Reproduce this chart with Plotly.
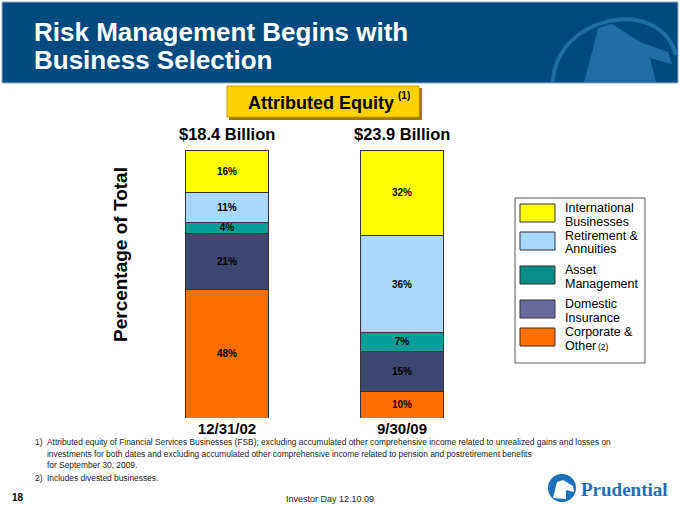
import plotly.graph_objects as go

W, H = 680, 507

dates = ["12/31/02", "9/30/09"]
totals = ["$18.4 Billion", "$23.9 Billion"]
# bottom -> top of each stack
segments = ["Corporate & Other", "Domestic Insurance", "Asset Management",
            "Retirement & Annuities", "International Businesses"]
corporate = [48, 10]
domestic = [21, 15]
asset_mgmt = [4, 7]
retirement = [11, 36]
international = [16, 32]
bar_colors = ["#FF6E00", "#3C4870", "#079E99", "#A8D8FF", "#FFFF00"]

# legend (top -> bottom as drawn on slide)
legend_lines = [["International", "Businesses"],
                ["Retirement &", "Annuities"],
                ["Asset", "Management"],
                ["Domestic", "Insurance"],
                ["Corporate &", "Other"]]
legend_colors = ["#FFFF00", "#A8D8FF", "#0A8C88", "#6A6A9C", "#FF6E00"]

title_lines = ["Risk Management Begins with", "Business Selection"]
footnotes = [
    ("1)", "Attributed equity of Financial Services Businesses (FSB); excluding accumulated other comprehensive income related to unrealized gains and losses on"),
    ("", "investments for both dates and excluding accumulated other comprehensive income related to pension and postretirement benefits"),
    ("", "for September 30, 2009."),
    ("2)", "Includes divested businesses."),
]

SANS = "Liberation Sans, Arial"


def px(x):
    return x / W


def py(y):
    return 1 - y / H


def label(x, y, text, size, color="black", bold=False, anchor="left", family=SANS, **kw):
    d = dict(x=px(x), y=py(y), xref="paper", yref="paper", xanchor=anchor, yanchor="middle",
             showarrow=False, text=text,
             font=dict(family=family, size=size, color=color, weight="bold" if bold else "normal"))
    d.update(kw)
    return d


fig = go.Figure()
values = [corporate, domestic, asset_mgmt, retirement, international]
for name, vals, col in zip(segments, values, bar_colors):
    fig.add_trace(go.Bar(
        x=dates, y=vals, name=name, width=0.47,
        marker=dict(color=col, line=dict(color="#333333", width=1)),
        text=[f"{v}%" for v in vals], textposition="inside",
        insidetextanchor="middle", constraintext="none", textangle=0,
        textfont=dict(family=SANS, size=10, color="black", weight="bold"),
        showlegend=False, hoverinfo="skip"))

shapes = []
annotations = []

# header band
shapes.append(dict(type="rect", xref="paper", yref="paper", x0=px(2), x1=px(678), y0=py(83), y1=py(2),
                   fillcolor="#004A80", line=dict(color="#9AAFC4", width=1), layer="below"))
# faint watermark in header
shapes.append(dict(type="path", xref="paper", yref="paper",
                   path=f"M {px(553)} {py(82)} C {px(556)} {py(15)}, {px(660)} {py(-5)}, {px(676)} {py(55)}",
                   line=dict(color="#1F6EA6", width=4)))
shapes.append(dict(type="path", xref="paper", yref="paper",
                   path=(f"M {px(584)} {py(82)} L {px(594)} {py(45)} L {px(598)} {py(28)} L {px(612)} {py(24)} "
                         f"L {px(640)} {py(42)} L {px(668)} {py(52)} L {px(672)} {py(64)} L {px(650)} {py(58)} "
                         f"L {px(656)} {py(82)} Z"),
                   fillcolor="#1F6EA6", line=dict(width=0)))
for ln, yy in zip(title_lines, [32, 60]):
    annotations.append(label(32, yy, ln, 26, color="white", bold=True))

# yellow box
shapes.append(dict(type="rect", xref="paper", yref="paper", x0=px(229), x1=px(422), y0=py(120), y1=py(88),
                   fillcolor="#A07800", line=dict(width=0)))
shapes.append(dict(type="rect", xref="paper", yref="paper", x0=px(227), x1=px(419), y0=py(117), y1=py(86),
                   fillcolor="#FFD200", line=dict(color="#D0A000", width=1)))
annotations.append(label(396, 103, "Attributed Equity", 18, bold=True, anchor="right"))
annotations.append(label(396, 96, "(1)", 10, bold=True))

# totals above bars
for d, t in zip(dates, totals):
    annotations.append(dict(x=d, y=100, xref="x", yref="y", yanchor="bottom", yshift=5, showarrow=False,
                            text=t, font=dict(family=SANS, size=16.5, color="black", weight="bold")))

# y title
annotations.append(label(120, 255, "Percentage of Total", 19, bold=True, anchor="center", textangle=-90))

# legend
shapes.append(dict(type="rect", xref="paper", yref="paper", x0=px(515), x1=px(645), y0=py(363), y1=py(198),
                   line=dict(color="#555555", width=1), fillcolor="white"))
sw_tops = [204, 232, 266, 300, 328]
for top, lines, col in zip(sw_tops, legend_lines, legend_colors):
    shapes.append(dict(type="rect", xref="paper", yref="paper", x0=px(520), x1=px(555), y0=py(top + 18), y1=py(top),
                       fillcolor=col, line=dict(color="#333333", width=1)))
    for i, ln in enumerate(lines):
        annotations.append(label(563, top + 4 + 13.5 * i, ln, 12.5))
annotations.append(label(596, 347, "(2)", 8.5))

# footnotes
fn_y = [442, 454, 465, 478]
for (num, txt), yy in zip(footnotes, fn_y):
    if num:
        annotations.append(label(33, yy, num, 8.4, color="#222222"))
    annotations.append(label(45, yy, txt, 8.4, color="#222222"))

annotations.append(label(10, 497, "18", 10, bold=True))
annotations.append(label(330, 499, "Investor Day 12.10.09", 9, color="#222222", anchor="center"))

# Prudential logo
shapes.append(dict(type="circle", xref="paper", yref="paper", x0=px(548), x1=px(576), y0=py(502), y1=py(474),
                   fillcolor="#1D6FB8", line=dict(width=0)))
shapes.append(dict(type="path", xref="paper", yref="paper",
                   path=(f"M {px(553)} {py(498)} L {px(557)} {py(482)} L {px(563)} {py(480)} L {px(573)} {py(486)} "
                         f"L {px(574)} {py(492)} L {px(566)} {py(490)} L {px(566)} {py(499)} Z"),
                   fillcolor="white", line=dict(width=0)))
annotations.append(label(579, 489, "Prudential", 19, color="#1D6FB8", bold=True,
                         family="Liberation Serif, DejaVu Serif"))

fig.update_layout(
    width=W, height=H, barmode="stack",
    margin=dict(l=0, r=0, t=0, b=0),
    paper_bgcolor="white", plot_bgcolor="white",
    xaxis=dict(domain=[139.5 / W, 489.5 / W], range=[-0.5, 1.5], showgrid=False, zeroline=False,
               showline=False, ticks="",
               tickfont=dict(family=SANS, size=15, color="black", weight="bold")),
    yaxis=dict(domain=[1 - 418 / H, 1 - 150 / H], range=[0, 100], visible=False),
    shapes=shapes, annotations=annotations,
)

fig.write_html("out.html", config={"displayModeBar": False},
               post_script="document.body.style.margin='0';")
